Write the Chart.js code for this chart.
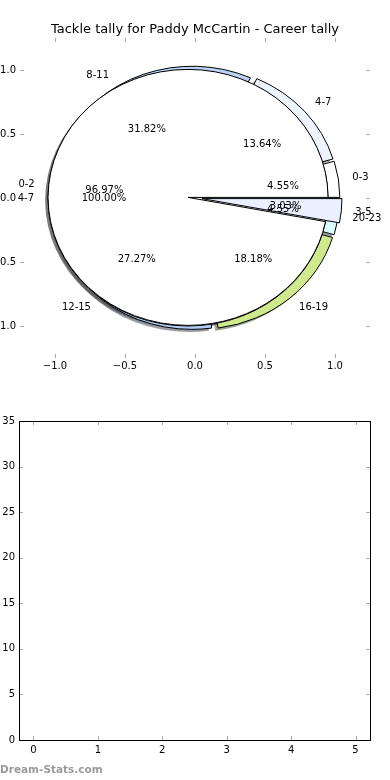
<!DOCTYPE html>
<html>
<head>
<meta charset="utf-8">
<title>Tackle tally for Paddy McCartin - Career tally</title>
<script src="https://cdn.jsdelivr.net/npm/chart.js@4.4.1/dist/chart.umd.min.js"></script>
<style>
  html, body { margin: 0; padding: 0; background: #fff; }
  #page { position: relative; width: 390px; height: 780px; overflow: hidden; }
  .box { position: absolute; left: 0; width: 390px; height: 390px; }
  #pie-box { top: 0; }
  #empty-box { top: 390px; }
  #watermark { position: absolute; left: 0; top: 763px; font: bold 10.5px 'DejaVu Sans', sans-serif; color: #9a9a9a; }
</style>
</head>
<body>
<div id="page">
  <div class="box" id="pie-box"><canvas id="pie-chart"></canvas></div>
  <div class="box" id="empty-box"><canvas id="empty-chart"></canvas></div>
  <div id="watermark">Dream-Stats.com</div>
</div>
<script>
// tackles per game, share of games (%)
const tallyLabels = ['0-3', '4-7', '8-11', '12-15', '16-19', '20-23'];
const tallyValues = [4.55, 13.64, 31.82, 27.27, 18.18, 4.55];
const rangeLabels = ['0-2', '3-5'];
const rangeValues = [96.97, 3.03];
const fullLabels = ['4-7'];
const fullValues = [100.00];

const pieTicks = [-1.0, -0.5, 0.0, 0.5, 1.0];
const emptyXTicks = [0, 1, 2, 3, 4, 5];
const emptyYTicks = [0, 5, 10, 15, 20, 25, 30, 35];

const tallyColors = ['#ffffff', '#eef4ff', '#bcd2f5', '#b4cdf2', '#d0e98c', '#dcfcff'];
const rangeColors = ['#ffffff', '#eaf0ff'];
const fullColors = ['#ffffff'];

Chart.defaults.font.family = "'DejaVu Sans', sans-serif";
Chart.defaults.font.size = 10;
Chart.defaults.color = '#000';

const pies = [
  { labels: tallyLabels, values: tallyValues, colors: tallyColors, explode: 0.035 },
  { labels: fullLabels, values: fullValues, colors: fullColors, explode: 0.05 },
  { labels: rangeLabels, values: rangeValues, colors: rangeColors, explode: 0.05 }
];

function layoutPie(pie) {
  const total = pie.values.reduce((a, b) => a + b, 0);
  let t = 0;
  return pie.values.map((v, i) => {
    const t1 = t;
    const t2 = t + 360 * v / total;
    t = t2;
    const mid = (t1 + t2) / 2 * Math.PI / 180;
    return {
      t1, t2, mid,
      cx: pie.explode * Math.cos(mid),
      cy: pie.explode * Math.sin(mid),
      label: pie.labels[i],
      value: v,
      color: pie.colors[i]
    };
  });
}

function wedgePath(ctx, sx, sy, w, dx, dy) {
  const px = sx.getPixelForValue(w.cx + dx);
  const py = sy.getPixelForValue(w.cy + dy);
  const rx = sx.getPixelForValue(w.cx + dx + 1) - px;
  const ry = py - sy.getPixelForValue(w.cy + dy + 1);
  ctx.beginPath();
  if (w.t2 - w.t1 >= 360 - 1e-9) {
    ctx.ellipse(px, py, rx, ry, 0, 0, Math.PI * 2);
  } else {
    ctx.moveTo(px, py);
    ctx.ellipse(px, py, rx, ry, 0, -w.t1 * Math.PI / 180, -w.t2 * Math.PI / 180, true);
  }
  ctx.closePath();
}

function hexRgb(hex) {
  const n = parseInt(hex.slice(1), 16);
  return [n >> 16, (n >> 8) & 255, n & 255];
}

const piePlugin = {
  id: 'pies',
  afterDraw(chart) {
    const ctx = chart.ctx;
    const sx = chart.scales.x, sy = chart.scales.y;
    const laid = pies.map(layoutPie);
    ctx.save();
    // shadows sit under every wedge
    laid.forEach(ws => ws.forEach(w => {
      const c = hexRgb(w.color).map(v => Math.round(v * 0.3));
      wedgePath(ctx, sx, sy, w, -0.02, -0.02);
      ctx.fillStyle = `rgba(${c[0]},${c[1]},${c[2]},0.5)`;
      ctx.fill();
    }));
    laid.forEach(ws => ws.forEach(w => {
      wedgePath(ctx, sx, sy, w, 0, 0);
      ctx.fillStyle = w.color;
      ctx.fill();
      ctx.lineWidth = 1;
      ctx.strokeStyle = '#000';
      ctx.stroke();
    }));
    ctx.fillStyle = '#000';
    ctx.font = "10px 'DejaVu Sans', sans-serif";
    ctx.textBaseline = 'middle';
    laid.forEach(ws => ws.forEach(w => {
      const lx = w.cx + 1.1 * Math.cos(w.mid);
      const ly = w.cy + 1.1 * Math.sin(w.mid);
      ctx.textAlign = lx > 0 ? 'left' : 'right';
      ctx.fillText(w.label, sx.getPixelForValue(lx), sy.getPixelForValue(ly));
      const px = w.cx + 0.6 * Math.cos(w.mid);
      const py = w.cy + 0.6 * Math.sin(w.mid);
      ctx.textAlign = 'center';
      ctx.fillText(w.value.toFixed(2) + '%', sx.getPixelForValue(px), sy.getPixelForValue(py));
    }));
    ctx.restore();
  }
};

// inward tick marks on all four sides, optional black frame
const ticksPlugin = {
  id: 'innerTicks',
  afterDraw(chart, args, opts) {
    const ctx = chart.ctx;
    const a = chart.chartArea;
    const sx = chart.scales.x, sy = chart.scales.y;
    ctx.save();
    ctx.strokeStyle = '#aaaaaa';
    ctx.lineWidth = 1;
    ctx.beginPath();
    sx.ticks.forEach(t => {
      const x = Math.round(sx.getPixelForValue(t.value)) + 0.5;
      ctx.moveTo(x, a.bottom); ctx.lineTo(x, a.bottom - 4);
      ctx.moveTo(x, a.top); ctx.lineTo(x, a.top + 4);
    });
    sy.ticks.forEach(t => {
      const y = Math.round(sy.getPixelForValue(t.value)) + 0.5;
      ctx.moveTo(a.left, y); ctx.lineTo(a.left + 4, y);
      ctx.moveTo(a.right, y); ctx.lineTo(a.right - 4, y);
    });
    ctx.stroke();
    if (opts.frame) {
      ctx.strokeStyle = '#000';
      ctx.strokeRect(Math.round(a.left) + 0.5, Math.round(a.top) + 0.5,
        Math.round(a.right - a.left), Math.round(a.bottom - a.top));
    }
    ctx.restore();
  }
};

function fmtPie(v) {
  return (v < 0 ? '\u2212' : '') + Math.abs(v).toFixed(1);
}

new Chart(document.getElementById('pie-chart'), {
  type: 'scatter',
  data: { datasets: [{ data: [] }] },
  options: {
    responsive: true,
    maintainAspectRatio: false,
    animation: false,
    events: [],
    layout: { padding: { top: 0, right: 20, bottom: 0, left: 0 } },
    plugins: {
      legend: { display: false },
      tooltip: { enabled: false },
      title: {
        display: true,
        fullSize: false,
        text: 'Tackle tally for Paddy McCartin - Career tally',
        color: '#000',
        font: { size: 13, weight: 'normal' },
        padding: { top: 22.2, bottom: 0.2 }
      },
      innerTicks: { frame: false }
    },
    scales: {
      x: {
        type: 'linear', min: -1.25, max: 1.25,
        grid: { display: false, drawTicks: false },
        border: { display: false },
        afterBuildTicks: axis => { axis.ticks = pieTicks.map(v => ({ value: v })); },
        afterFit: axis => { axis.height = 32; },
        ticks: { padding: 2, autoSkip: false, maxRotation: 0, callback: fmtPie }
      },
      y: {
        type: 'linear', min: -1.25, max: 1.25,
        grid: { display: false, drawTicks: false },
        border: { display: false },
        afterBuildTicks: axis => { axis.ticks = pieTicks.map(v => ({ value: v })); },
        afterFit: axis => { axis.width = 20; },
        ticks: { padding: 4, autoSkip: false, callback: fmtPie }
      }
    }
  },
  plugins: [ticksPlugin, piePlugin]
});

new Chart(document.getElementById('empty-chart'), {
  type: 'scatter',
  data: { datasets: [{ data: [] }] },
  options: {
    responsive: true,
    maintainAspectRatio: false,
    animation: false,
    events: [],
    layout: { padding: { top: 31, right: 20, bottom: 0, left: 0 } },
    plugins: {
      legend: { display: false },
      tooltip: { enabled: false },
      innerTicks: { frame: true }
    },
    scales: {
      x: {
        type: 'linear', min: -0.225, max: 5.225,
        grid: { display: false, drawTicks: false },
        border: { display: false },
        afterBuildTicks: axis => { axis.ticks = emptyXTicks.map(v => ({ value: v })); },
        afterFit: axis => { axis.height = 40; },
        ticks: { padding: 4, autoSkip: false, maxRotation: 0, callback: v => String(v) }
      },
      y: {
        type: 'linear', min: 0, max: 35,
        grid: { display: false, drawTicks: false },
        border: { display: false },
        afterBuildTicks: axis => { axis.ticks = emptyYTicks.map(v => ({ value: v })); },
        afterFit: axis => { axis.width = 19; },
        ticks: { padding: 4, autoSkip: false, callback: v => String(v) }
      }
    }
  },
  plugins: [ticksPlugin]
});
</script>
</body>
</html>
